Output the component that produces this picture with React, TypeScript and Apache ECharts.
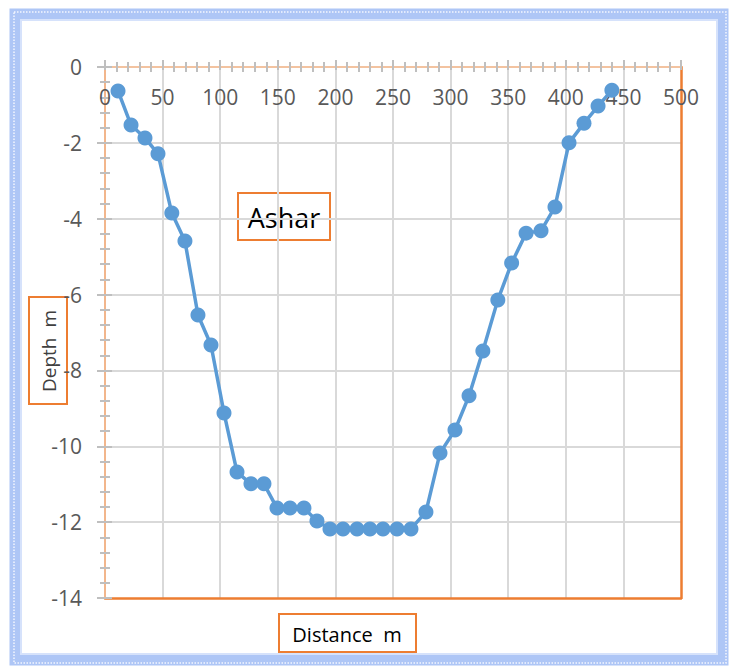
import React, { useEffect, useRef } from 'react';
import * as echarts from 'echarts';

const distance = [11.3, 22.6, 34.7, 46, 58, 69.4, 80.7, 92, 103.3, 114.6, 126.7, 138, 149.3, 160.6, 172.7, 184, 195.3, 206.6, 218.8, 230, 241.3, 253.5, 265.6, 278.6, 290.8, 303.8, 316, 328, 341, 353, 365.5, 378.5, 390.6, 402.8, 415.8, 428, 440];
const depth = [-0.63, -1.53, -1.87, -2.29, -3.85, -4.59, -6.54, -7.33, -9.12, -10.68, -10.99, -10.99, -11.63, -11.63, -11.63, -11.97, -12.18, -12.18, -12.18, -12.18, -12.18, -12.18, -12.18, -11.73, -10.18, -9.57, -8.67, -7.49, -6.14, -5.17, -4.38, -4.32, -3.69, -2.0, -1.48, -1.03, -0.61];
const xRange = [0, 500];
const xStep = 50;
const yRange = [-14, 0];
const yStep = 2;
const titleText = 'Ashar';
const xTitle = 'Distance  m';
const yTitle = 'Depth  m';

const FONT = '"Open Sans", Lato, sans-serif';
const ORANGE = '#ed7d31';
const TICK = '#bfbfbf';

export default function App() {
  const ref = useRef<HTMLDivElement>(null);
  useEffect(() => {
    if (!ref.current) return;
    const chart = echarts.init(ref.current, null, { renderer: 'svg' });
    const points = distance.map((d, i) => [d, depth[i]]);
    const baseX = { type: 'value', min: xRange[0], max: xRange[1], interval: xStep };
    const baseY = { type: 'value', min: yRange[0], max: yRange[1], interval: yStep };
    chart.setOption({
      animation: false,
      backgroundColor: '#ffffff',
      grid: { left: 105, top: 67, right: 48, bottom: 68, containLabel: false },
      xAxis: [
        {
          ...baseX,
          position: 'top',
          axisLine: { show: true, onZero: false, lineStyle: { color: '#f3c3a0', width: 2 } },
          axisTick: { show: true, length: 7, lineStyle: { color: TICK, width: 2 } },
          minorTick: { show: true, splitNumber: 5, length: 5, lineStyle: { color: TICK, width: 2 } },
          axisLabel: { inside: true, margin: 19, color: '#595959', fontSize: 21, fontFamily: FONT },
          splitLine: { show: true, showMinLine: false, showMaxLine: false, lineStyle: { color: '#d9d9d9', width: 2 } },
        },
        {
          ...baseX,
          position: 'top',
          axisLine: { show: false, onZero: false },
          axisTick: { show: true, inside: true, length: 3, lineStyle: { color: TICK, width: 2 } },
          minorTick: { show: true, splitNumber: 5, length: 5, lineStyle: { color: TICK, width: 2 } },
          axisLabel: { show: false },
          splitLine: { show: false },
        },
        {
          ...baseX,
          position: 'bottom',
          axisLine: { show: true, onZero: false, lineStyle: { color: ORANGE, width: 2.5 } },
          axisTick: { show: false },
          axisLabel: { show: false },
          splitLine: { show: false },
        },
      ],
      yAxis: [
        {
          ...baseY,
          position: 'left',
          axisLine: { show: true, onZero: false, lineStyle: { color: '#f2b68c', width: 2 } },
          axisTick: { show: true, length: 8, lineStyle: { color: TICK, width: 2 } },
          minorTick: { show: true, splitNumber: 5, length: 5, lineStyle: { color: TICK, width: 2 } },
          axisLabel: { margin: 23, color: '#595959', fontSize: 21, fontFamily: FONT },
          splitLine: { show: true, showMinLine: false, showMaxLine: false, lineStyle: { color: '#d9d9d9', width: 2 } },
        },
        {
          ...baseY,
          position: 'left',
          axisLine: { show: false, onZero: false },
          axisTick: { show: true, inside: true, length: 7, lineStyle: { color: TICK, width: 2 } },
          minorTick: { show: true, splitNumber: 5, length: 5, lineStyle: { color: TICK, width: 2 } },
          axisLabel: { show: false },
          splitLine: { show: false },
        },
        {
          ...baseY,
          position: 'right',
          axisLine: { show: true, onZero: false, lineStyle: { color: ORANGE, width: 2.5 } },
          axisTick: { show: false },
          axisLabel: { show: false },
          splitLine: { show: false },
        },
      ],
      series: [
        {
          type: 'line',
          xAxisIndex: 0,
          yAxisIndex: 0,
          data: points,
          symbol: 'circle',
          symbolSize: 15,
          lineStyle: { color: '#5b9bd5', width: 3.5 },
          itemStyle: { color: '#5b9bd5' },
          z: 5,
        },
      ],
      graphic: [
        {
          type: 'rect',
          shape: { x: 15, y: 14, width: 708, height: 646 },
          style: { fill: 'none', stroke: '#aec6f6', lineWidth: 11 },
          silent: true,
        },
        {
          type: 'rect',
          shape: { x: 21, y: 20, width: 696, height: 634 },
          style: { fill: 'none', stroke: '#d6e2fb', lineWidth: 2 },
          silent: true,
        },
        {
          type: 'rect',
          shape: { x: 14, y: 12, width: 712, height: 651 },
          style: { fill: 'none', stroke: 'rgba(255,255,255,0.85)', lineWidth: 1.5, lineDash: [1.5, 1.5] },
          silent: true,
        },
        {
          type: 'group',
          left: 237,
          top: 192,
          children: [
            { type: 'rect', shape: { x: 0, y: 0, width: 92, height: 47 }, style: { fill: '#ffffff', stroke: ORANGE, lineWidth: 2 } },
            { type: 'text', x: 46, y: 24, style: { text: titleText, fill: '#000000', font: `27px ${FONT}`, align: 'center', verticalAlign: 'middle' } },
          ],
          z: 10,
        },
        {
          type: 'group',
          left: 278,
          top: 613,
          children: [
            { type: 'rect', shape: { x: 0, y: 0, width: 137, height: 38 }, style: { fill: '#ffffff', stroke: ORANGE, lineWidth: 2 } },
            { type: 'text', x: 68, y: 20, style: { text: xTitle, fill: '#000000', font: `20px ${FONT}`, align: 'center', verticalAlign: 'middle' } },
          ],
          z: 10,
        },
        {
          type: 'group',
          left: 28,
          top: 296,
          children: [
            { type: 'rect', shape: { x: 0, y: 0, width: 38, height: 107 }, style: { fill: '#ffffff', stroke: ORANGE, lineWidth: 2 } },
            { type: 'text', x: 20, y: 54, rotation: Math.PI / 2, style: { text: yTitle, fill: '#404040', font: `19px ${FONT}`, align: 'center', verticalAlign: 'middle' } },
          ],
          z: 10,
        },
      ],
    });
    return () => chart.dispose();
  }, []);
  return <div ref={ref} style={{ position: 'absolute', left: 0, top: 0, width: 729, height: 666 }} />;
}
